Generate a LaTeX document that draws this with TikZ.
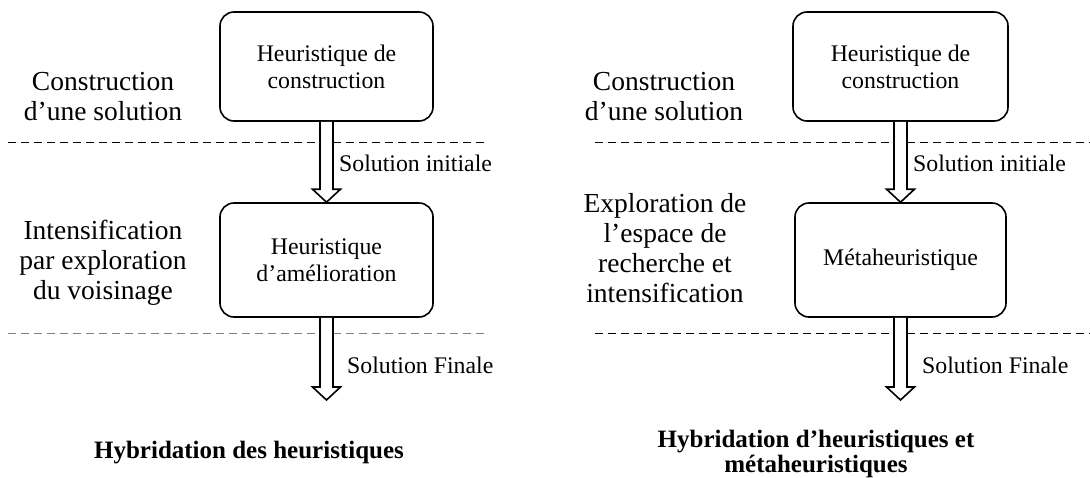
\documentclass[tikz,border=0pt]{standalone}
\usepackage{fontspec}
\setmainfont{Liberation Serif}
\usetikzlibrary{positioning,calc}

% hollow block arrow from the bottom of one node to a target point
\newcommand{\hollowarrow}[2]{%
  \draw[arrowline] ($(#1.south)+(-6.5,0)$) -- ($(#2)+(-6.5,-13)$) -- ($(#2)+(-14,-13)$)
    -- (#2) -- ($(#2)+(14,-13)$) -- ($(#2)+(6.5,-13)$) -- ($(#1.south)+(6.5,0)$);}

\begin{document}
\begin{tikzpicture}[
  x=1pt, y=-1pt,
  box/.style={draw, rectangle, rounded corners=14pt, line width=1.6pt, minimum width=#1, minimum height=109pt, align=center, inner sep=0pt, font=\fontsize{23.8}{27}\selectfont},
  box/.default=213pt,
  phase/.style={align=center, font=\fontsize{27.5}{30}\selectfont},
  flowlbl/.style={anchor=west, inner sep=0pt, font=\fontsize{23.8}{26}\selectfont},
  caption/.style={align=center, font=\fontsize{25}{25.5}\selectfont\bfseries},
  sep/.style={dash pattern=on 8pt off 5pt, line width=0.9pt},
  arrowline/.style={draw, fill=white, line width=1.6pt, line join=miter}
]
\useasboundingbox (0,0) rectangle (1090,477);

% Separators
\draw[sep] (8,142) -- (487,142);
\draw[sep, gray] (8,333) -- (487,333);
\draw[sep] (595,142) -- (1090,142);
\draw[sep] (595,333) -- (1090,333);

% Left panel: hybridation des heuristiques
\node[box] (constrL) at (326.5,66.5) {Heuristique de\\construction};
\node[box, minimum height=114pt] (amelio) at (326.5,260) {Heuristique\\d’amélioration};
\coordinate (finL) at (326.5,400);

\node[phase] (phaseL1) at (103,97) {Construction\\d’une solution};
\node[phase] (phaseL2) at (103,263) {Intensification\\par exploration\\du voisinage};

\hollowarrow{constrL}{amelio.north}
\hollowarrow{amelio}{finL}

\node[flowlbl] (initL) at (339,163) {Solution initiale};
\node[flowlbl] (finalL) at (347,365) {Solution Finale};

\node[caption] (titleL) at (249,453) {Hybridation des heuristiques};

% Right panel: hybridation heuristiques / metaheuristiques
\node[box=215pt] (constrR) at (900.5,66.5) {Heuristique de\\construction};
\node[box=211pt, minimum height=114pt] (meta) at (900.5,260) {Métaheuristique};
\coordinate (finR) at (900.5,400);

\node[phase] (phaseR1) at (664,97) {Construction\\d’une solution};
\node[phase] (phaseR2) at (665,248) {Exploration de\\l’espace de\\recherche et\\intensification};

\hollowarrow{constrR}{meta.north}
\hollowarrow{meta}{finR}

\node[flowlbl] (initR) at (913,163) {Solution initiale};
\node[flowlbl] (finalR) at (922,365) {Solution Finale};

\node[caption] (titleR) at (816,454) {Hybridation d’heuristiques et\\métaheuristiques};

\end{tikzpicture}
\end{document}
